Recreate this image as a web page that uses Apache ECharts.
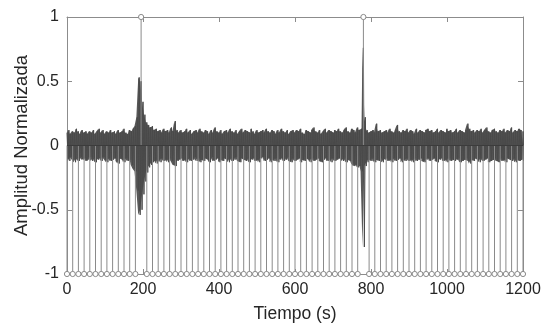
<!DOCTYPE html>
<html>
<head>
<meta charset="utf-8">
<script src="https://cdn.jsdelivr.net/npm/echarts@6/dist/echarts.min.js"></script>
<style>
  html, body { margin: 0; padding: 0; background: #fff; }
  #chart { width: 549px; height: 330px; }
</style>
</head>
<body>
<div id="chart"></div>
<script>
const EnvStep = 5;       // seconds between envelope readings
const XTicks = [0, 200, 400, 600, 800, 1000, 1200];
const YTicks = [-1, -0.5, 0, 0.5, 1];

// upper edge of the signal band, one value every 5 s (0..1200)
var upperEnv = [
  0.10,0.12,0.09,0.11,0.10,0.13,0.11,0.09,0.12,0.10,0.11,0.09,
  0.11,0.10,0.12,0.09,0.11,0.13,0.10,0.12,0.09,0.11,0.10,0.12,
  0.10,0.11,0.09,0.12,0.10,0.11,0.13,0.10,0.09,0.12,0.11,0.13,
  0.15,0.22,0.53,0.50,0.34,0.24,0.18,0.16,0.14,0.15,0.12,0.13,
  0.11,0.12,0.10,0.13,0.11,0.12,0.10,0.14,0.11,0.19,0.12,0.10,
  0.12,0.10,0.11,0.13,0.10,0.12,0.09,0.11,0.12,0.10,0.13,0.11,
  0.10,0.12,0.11,0.09,0.12,0.10,0.14,0.11,0.10,0.12,0.09,0.11,
  0.12,0.10,0.13,0.11,0.10,0.12,0.09,0.11,0.13,0.10,0.12,0.11,
  0.10,0.13,0.11,0.09,0.12,0.10,0.11,0.12,0.10,0.13,0.11,0.10,
  0.12,0.11,0.09,0.12,0.10,0.13,0.11,0.10,0.12,0.09,0.11,0.12,
  0.10,0.12,0.11,0.13,0.10,0.09,0.12,0.11,0.10,0.12,0.14,0.11,
  0.10,0.12,0.09,0.11,0.13,0.10,0.12,0.11,0.10,0.12,0.11,0.13,
  0.11,0.10,0.12,0.14,0.11,0.10,0.13,0.12,0.10,0.14,0.12,0.13,
  0.76,0.22,0.12,0.10,0.11,0.12,0.10,0.17,0.11,0.12,0.10,0.11,
  0.12,0.10,0.13,0.11,0.10,0.12,0.16,0.11,0.10,0.12,0.11,0.13,
  0.10,0.12,0.11,0.09,0.13,0.10,0.12,0.11,0.10,0.12,0.13,0.11,
  0.12,0.10,0.11,0.13,0.10,0.12,0.11,0.10,0.13,0.11,0.12,0.10,
  0.11,0.13,0.10,0.12,0.11,0.10,0.12,0.17,0.13,0.11,0.12,0.10,
  0.12,0.11,0.13,0.10,0.12,0.14,0.11,0.10,0.12,0.13,0.11,0.10,
  0.12,0.11,0.13,0.10,0.12,0.11,0.14,0.10,0.12,0.11,0.13,0.12,
  0.11
];

// lower edge of the signal band, same time grid
var lowerEnv = [
  -0.10,-0.12,-0.09,-0.11,-0.13,-0.10,-0.12,-0.09,-0.11,-0.10,-0.12,-0.11,
  -0.09,-0.12,-0.10,-0.13,-0.11,-0.10,-0.12,-0.09,-0.11,-0.13,-0.10,-0.12,
  -0.11,-0.10,-0.12,-0.14,-0.10,-0.11,-0.13,-0.10,-0.12,-0.11,-0.15,-0.18,
  -0.20,-0.35,-0.54,-0.50,-0.38,-0.28,-0.21,-0.17,-0.15,-0.13,-0.12,-0.14,
  -0.11,-0.13,-0.10,-0.12,-0.11,-0.13,-0.10,-0.12,-0.15,-0.16,-0.12,-0.11,
  -0.10,-0.12,-0.11,-0.13,-0.10,-0.12,-0.11,-0.09,-0.12,-0.10,-0.13,-0.11,
  -0.12,-0.10,-0.11,-0.13,-0.09,-0.12,-0.11,-0.10,-0.13,-0.11,-0.12,-0.10,
  -0.11,-0.13,-0.10,-0.12,-0.11,-0.09,-0.12,-0.13,-0.10,-0.11,-0.12,-0.10,
  -0.13,-0.11,-0.10,-0.12,-0.11,-0.13,-0.10,-0.09,-0.12,-0.11,-0.10,-0.13,
  -0.11,-0.12,-0.10,-0.13,-0.11,-0.10,-0.12,-0.11,-0.09,-0.12,-0.13,-0.10,
  -0.12,-0.11,-0.10,-0.13,-0.11,-0.12,-0.10,-0.11,-0.13,-0.10,-0.12,-0.11,
  -0.10,-0.12,-0.13,-0.11,-0.10,-0.12,-0.11,-0.13,-0.10,-0.12,-0.11,-0.10,
  -0.11,-0.12,-0.10,-0.13,-0.11,-0.12,-0.14,-0.16,-0.15,-0.17,-0.16,-0.20,
  -0.79,-0.16,-0.13,-0.11,-0.12,-0.10,-0.13,-0.11,-0.12,-0.10,-0.13,-0.11,
  -0.10,-0.12,-0.11,-0.13,-0.10,-0.12,-0.11,-0.10,-0.13,-0.11,-0.12,-0.10,
  -0.12,-0.11,-0.13,-0.10,-0.12,-0.11,-0.10,-0.12,-0.13,-0.11,-0.10,-0.12,
  -0.11,-0.10,-0.12,-0.13,-0.11,-0.10,-0.12,-0.11,-0.13,-0.10,-0.12,-0.11,
  -0.12,-0.11,-0.10,-0.13,-0.12,-0.11,-0.10,-0.12,-0.14,-0.11,-0.12,-0.10,
  -0.11,-0.13,-0.10,-0.12,-0.11,-0.10,-0.13,-0.12,-0.11,-0.10,-0.12,-0.13,
  -0.10,-0.12,-0.11,-0.13,-0.10,-0.11,-0.12,-0.10,-0.13,-0.11,-0.12,-0.11,
  -0.12
];

// detection stems: one window every 15 s
var stemTimes = [
  0,15,30,45,60,75,90,105,120,135,150,165,180,195,210,225,240,255,270,285,
  300,315,330,345,360,375,390,405,420,435,450,465,480,495,510,525,540,555,570,585,
  600,615,630,645,660,675,690,705,720,735,750,765,780,795,810,825,840,855,870,885,
  900,915,930,945,960,975,990,1005,1020,1035,1050,1065,1080,1095,1110,1125,1140,1155,1170,1185,
  1200
];
var stemValues = [
  -1,-1,-1,-1,-1,-1,-1,-1,-1,-1,-1,-1,-1, 1,-1,-1,-1,-1,-1,-1,
  -1,-1,-1,-1,-1,-1,-1,-1,-1,-1,-1,-1,-1,-1,-1,-1,-1,-1,-1,-1,
  -1,-1,-1,-1,-1,-1,-1,-1,-1,-1,-1,-1, 1,-1,-1,-1,-1,-1,-1,-1,
  -1,-1,-1,-1,-1,-1,-1,-1,-1,-1,-1,-1,-1,-1,-1,-1,-1,-1,-1,-1,
  -1
];

const FontFam = '"Liberation Sans", Arial, sans-serif';
const TextColor = '#262626';
const BoxColor = '#8c8c8c';

function getSignalData() {
  // zigzag between the upper and lower edge so the band gets some texture
  var data = [];
  for (var i = 0; i < upperEnv.length; i++) {
    var t = i * EnvStep;
    data.push([t, upperEnv[i]]);
    data.push([t + EnvStep / 2, lowerEnv[i]]);
  }
  return data;
}

function getEnvData(env) {
  var data = [];
  for (var i = 0; i < env.length; i++) {
    data.push([i * EnvStep, env[i]]);
  }
  return data;
}

function getStemData() {
  var data = [];
  for (var i = 0; i < stemTimes.length; i++) {
    data.push([stemTimes[i], stemValues[i]]);
  }
  return data;
}

function renderStem(params, api) {
  var t = api.value(0);
  var v = api.value(1);
  var p0 = api.coord([t, 0]);
  var p1 = api.coord([t, v]);
  return {
    type: 'group',
    children: [{
      type: 'line',
      shape: { x1: p0[0], y1: p0[1], x2: p1[0], y2: p1[1] },
      style: { stroke: '#8a8a8a', lineWidth: 1 }
    }, {
      type: 'circle',
      shape: { cx: p1[0], cy: p1[1], r: 2.6 },
      style: { fill: '#ffffff', stroke: '#8a8a8a', lineWidth: 1 }
    }]
  };
}

function axisCommon(showLabel) {
  return {
    axisLine: { show: true, onZero: false, lineStyle: { color: BoxColor, width: 1 } },
    axisTick: { show: true, inside: true, length: 5, lineStyle: { color: BoxColor } },
    splitLine: { show: false },
    nameMoveOverlap: false,
    axisLabel: {
      show: showLabel,
      color: TextColor,
      fontSize: 16,
      fontFamily: FontFam,
      margin: 8,
      formatter: function (v) { return String(v); }
    }
  };
}

function bandSeries(name, env) {
  return {
    name: name,
    type: 'line',
    data: getEnvData(env),
    step: 'middle',
    showSymbol: false,
    symbol: 'none',
    sampling: null,
    lineStyle: { width: 0 },
    areaStyle: { color: '#585858', opacity: 1, origin: 0 },
    z: 1
  };
}

var chart = echarts.init(document.getElementById('chart'), null, { renderer: 'canvas' });

var xBottom = Object.assign(axisCommon(true), {
  type: 'value', position: 'bottom', min: XTicks[0], max: XTicks[XTicks.length - 1], interval: 200,
  name: 'Tiempo (s)', nameLocation: 'middle', nameGap: 31,
  nameTextStyle: { color: TextColor, fontSize: 17.5, fontFamily: FontFam }
});
var xTop = Object.assign(axisCommon(false), {
  type: 'value', position: 'top', min: XTicks[0], max: XTicks[XTicks.length - 1], interval: 200
});
var yLeft = Object.assign(axisCommon(true), {
  type: 'value', position: 'left', min: YTicks[0], max: YTicks[YTicks.length - 1], interval: 0.5,
  name: 'Amplitud Normalizada', nameLocation: 'middle', nameGap: 36,
  nameTextStyle: { color: TextColor, fontSize: 18.5, fontFamily: FontFam }
});
var yRight = Object.assign(axisCommon(false), {
  type: 'value', position: 'right', min: YTicks[0], max: YTicks[YTicks.length - 1], interval: 0.5
});

var option = {
  backgroundColor: '#ffffff',
  animation: false,
  grid: { left: 67, right: 26, top: 17, bottom: 56, containLabel: false, outerBoundsMode: 'none' },
  xAxis: [xBottom, xTop],
  yAxis: [yLeft, yRight],
  series: [
    bandSeries('upper', upperEnv),
    bandSeries('lower', lowerEnv),
    {
      name: 'signal',
      type: 'line',
      data: getSignalData(),
      showSymbol: false,
      symbol: 'none',
      sampling: null,
      lineStyle: { color: '#4a4a4a', width: 1 },
      z: 2
    }, {
      name: 'stems',
      type: 'custom',
      data: getStemData(),
      renderItem: renderStem,
      clip: false,
      z: 3,
      markLine: {
        silent: true,
        symbol: 'none',
        label: { show: false },
        lineStyle: { color: '#3c3c3c', width: 1, type: 'solid' },
        data: [{ yAxis: 0 }],
        z: 4
      }
    }
  ]
};
chart.setOption(option);
</script>
</body>
</html>
